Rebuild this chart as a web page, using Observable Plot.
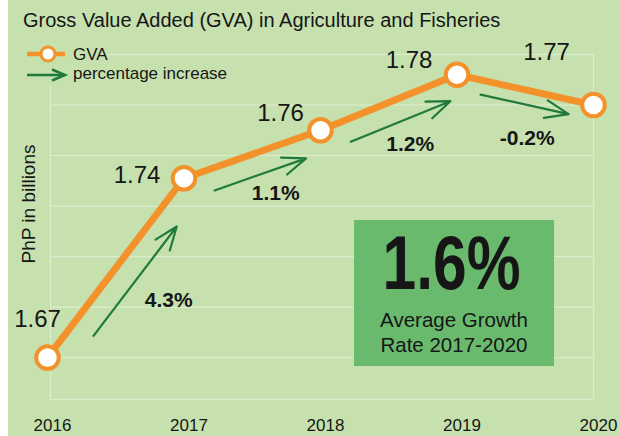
<!DOCTYPE html>
<html><head><meta charset="utf-8">
<script src="https://cdn.jsdelivr.net/npm/d3@7"></script>
<script src="https://cdn.jsdelivr.net/npm/@observablehq/plot@0.6"></script>
<style>
body{margin:0;background:#fff;}
#wrap{position:absolute;left:8px;top:0;width:611px;height:436px;background:#c6e1ae;overflow:hidden;}
#wrap svg{display:block;background:transparent;}
</style></head><body><div id="wrap"></div>
<script>
// ---- data ----
const years = [2016, 2017, 2018, 2019, 2020];
const gva = [1.67, 1.741, 1.76, 1.782, 1.77];
const gvaLabels = ["1.67", "1.74", "1.76", "1.78", "1.77"];
const pctChange = ["4.3%", "1.1%", "1.2%", "-0.2%"];
const gridValues = [1.67, 1.69, 1.71, 1.73, 1.75, 1.77, 1.79];
const titleText = "Gross Value Added (GVA) in Agriculture and Fisheries";
const yLabelText = "PhP in billions";
const legendLabels = ["GVA", "percentage increase"];
const avgGrowth = "1.6%";
const avgGrowthLabel = ["Average Growth", "Rate 2017-2020"];

// ---- build table ----
const points = years.map((year, i) => ({year, gva: gva[i], label: gvaLabels[i]}));
const segments = pctChange.map((pct, i) => ({
  x0: years[i], y0: gva[i], x1: years[i + 1], y1: gva[i + 1], pct
}));

// ---- layout (pixel offsets) ----
const ORANGE = "#f3922a", GREEN = "#1f7a3c", INK = "#161616";
const FONT = "'Liberation Sans', Arial, sans-serif";
const labelOffsets = [[-10, -38], [-47, -3], [-40, -17], [-48, -14], [-47, -53]];
const arrowLayout = [
  {t0: 0.2, t1: 0.81, dx: 18.7, dy: 14.2},
  {t0: 0.17, t1: 0.84, dx: 7.4, dy: 20.4},
  {t0: 0.16, t1: 0.89, dx: 8.4, dy: 20.4},
  {t0: 0.195, t1: 0.84, dx: -3.1, dy: 14}
];
const pctOffsets = [[53, 32], [23.5, 39], [21.5, 41.5], [2, 48.5]];

const lerp = (a, b, t) => a + (b - a) * t;

const marks = [
  Plot.ruleY(gridValues, {stroke: "#dcedcc", strokeWidth: 1.2, insetLeft: 3}),
  Plot.frame({stroke: "#dcedcc", strokeWidth: 1.2, insetLeft: 3}),
  Plot.axisX({ticks: years, tickFormat: d => String(d), tickSize: 0, tickPadding: 19,
    fontSize: 17, dx: 5, label: null, fill: INK}),
  ...segments.map((s, i) => {
    const a = arrowLayout[i];
    return Plot.arrow([s], {
      x1: d => lerp(d.x0, d.x1, a.t0), y1: d => lerp(d.y0, d.y1, a.t0),
      x2: d => lerp(d.x0, d.x1, a.t1), y2: d => lerp(d.y0, d.y1, a.t1),
      dx: a.dx, dy: a.dy, stroke: GREEN, strokeWidth: 2.2, headLength: 17, headAngle: 42
    });
  }),
  ...segments.map((s, i) => Plot.text([s], {
    x: d => (d.x0 + d.x1) / 2, y: d => (d.y0 + d.y1) / 2, text: "pct",
    dx: pctOffsets[i][0], dy: pctOffsets[i][1], fontSize: 21, fontWeight: "bold", fill: INK
  })),
  Plot.line(points, {x: "year", y: "gva", stroke: ORANGE, strokeWidth: 7}),
  Plot.dot(points, {x: "year", y: "gva", r: 11.3, fill: "white", stroke: ORANGE, strokeWidth: 4}),
  ...points.map((p, i) => Plot.text([p], {
    x: "year", y: "gva", text: "label", dx: labelOffsets[i][0], dy: labelOffsets[i][1],
    fontSize: 24, fill: INK
  }))
];

const plot = Plot.plot({
  width: 611, height: 436,
  marginLeft: 39, marginRight: 26, marginTop: 54, marginBottom: 37,
  style: {fontFamily: FONT, background: "transparent", overflow: "visible"},
  x: {domain: [2016, 2020], axis: null},
  y: {domain: [1.6534, 1.79], axis: null},
  marks
});
document.getElementById("wrap").appendChild(plot);

// ---- annotations (title, legend, y label, growth box) ----
const svg = d3.select(plot);
const ann = svg.append("g").attr("font-family", FONT).attr("fill", INK).attr("text-anchor", "start");

ann.append("text").attr("x", 15).attr("y", 27).attr("font-size", 20).text(titleText);

ann.append("text").attr("transform", "translate(27,204) rotate(-90)")
  .attr("text-anchor", "middle").attr("font-size", 19).text(yLabelText);

// legend
const lg = ann.append("g");
lg.append("rect").attr("x", 30).attr("y", 40).attr("width", 70).attr("height", 46).attr("fill", "#c6e1ae");
lg.append("line").attr("x1", 19).attr("x2", 57).attr("y1", 54).attr("y2", 54)
  .attr("stroke", ORANGE).attr("stroke-width", 4.5);
lg.append("circle").attr("cx", 40).attr("cy", 54).attr("r", 7).attr("fill", "white")
  .attr("stroke", ORANGE).attr("stroke-width", 3);
lg.append("line").attr("x1", 19).attr("x2", 57).attr("y1", 75).attr("y2", 75)
  .attr("stroke", GREEN).attr("stroke-width", 2.5);
lg.append("path").attr("d", "M44,69.5L57,75L44,80.5").attr("fill", "none")
  .attr("stroke", GREEN).attr("stroke-width", 2.5);
lg.append("text").attr("x", 65).attr("y", 60).attr("font-size", 17).text(legendLabels[0]);
lg.append("text").attr("x", 65).attr("y", 79).attr("font-size", 17).text(legendLabels[1]);

// growth box
const bx = ann.append("g");
bx.append("rect").attr("x", 346).attr("y", 220).attr("width", 200).attr("height", 146).attr("fill", "#6aba6e");
bx.append("text").attr("x", 443.5).attr("y", 289).attr("text-anchor", "middle")
  .attr("font-weight", "bold").attr("font-size", 76)
  .attr("textLength", 138).attr("lengthAdjust", "spacingAndGlyphs").text(avgGrowth);
avgGrowthLabel.forEach((t, i) => bx.append("text").attr("x", 446).attr("y", 327 + i * 25)
  .attr("text-anchor", "middle").attr("font-size", 20.5).text(t));
</script></body></html>
